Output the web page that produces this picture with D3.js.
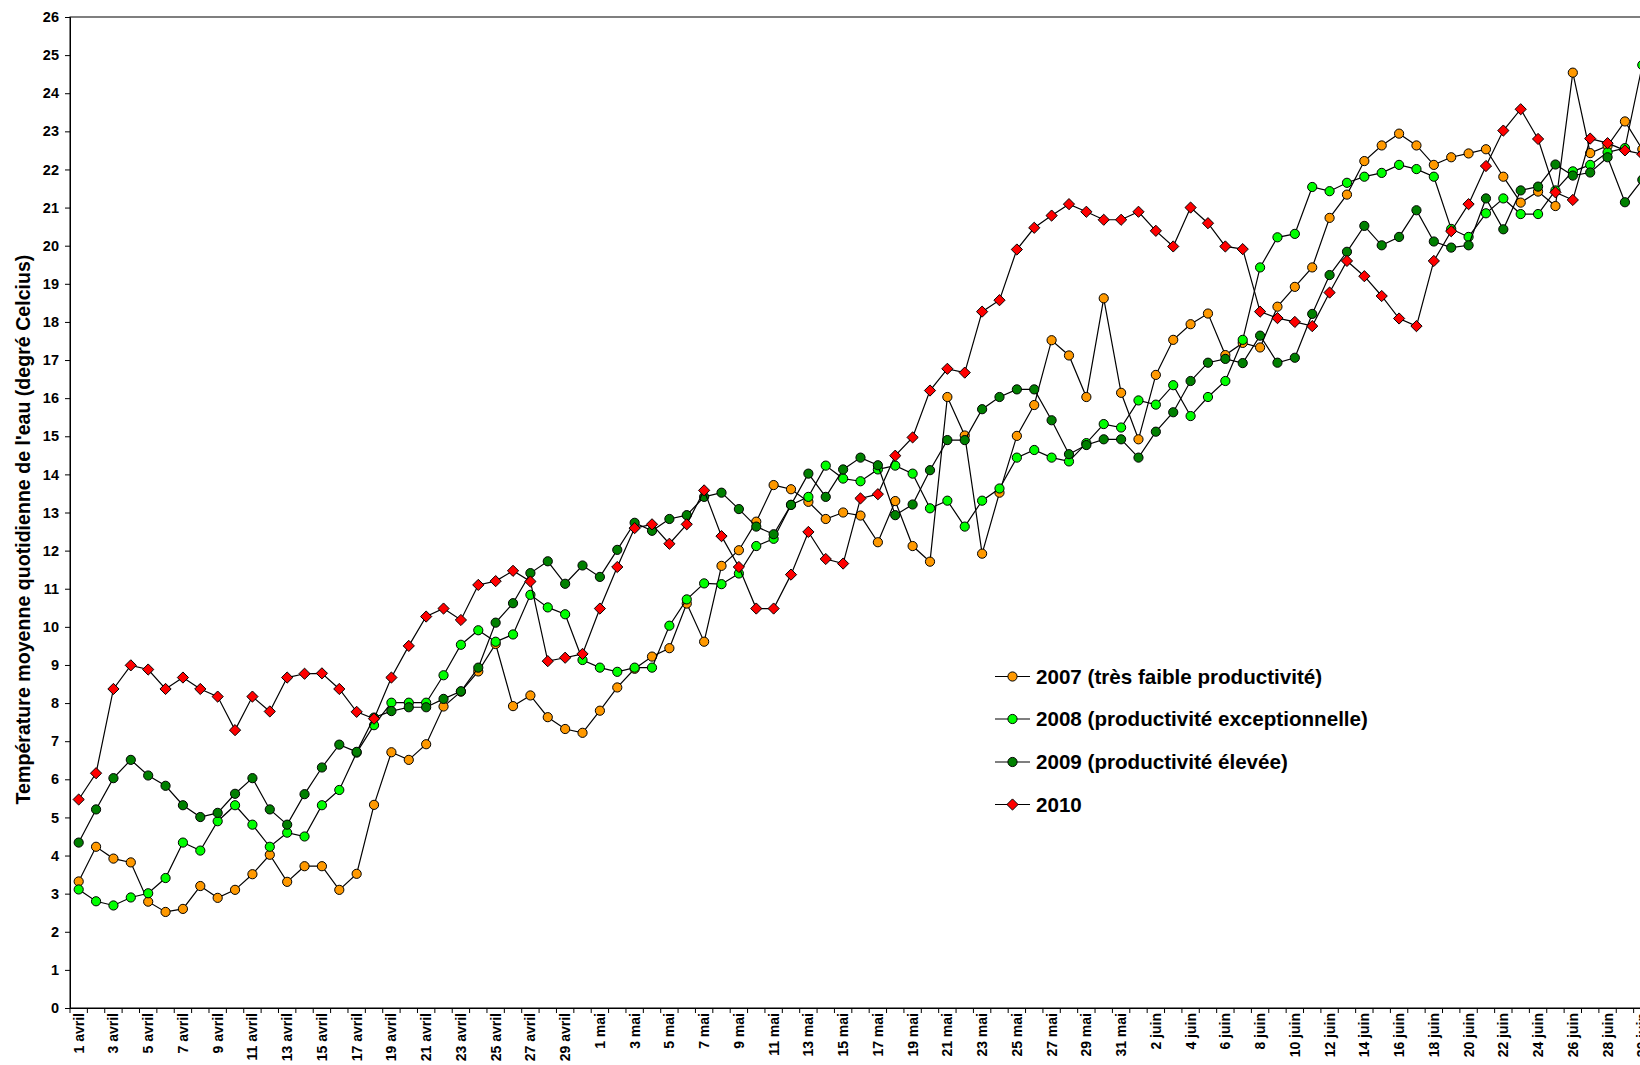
<!DOCTYPE html>
<html>
<head>
<meta charset="utf-8">
<script src="https://cdn.jsdelivr.net/npm/d3@7"></script>
<style>
  body { margin: 0; background: #ffffff; }
  svg { display: block; }
  text { font-family: "Liberation Sans", Arial, sans-serif; font-weight: bold; fill: #000; }
</style>
</head>
<body>
<svg id="chart" width="1640" height="1065"></svg>
<script>
// Calendar categories: 1 avril .. 30 juin
const monthNames = ["avril", "mai", "juin"];
const monthLengths = [30, 31, 30];
const days = [];
monthNames.forEach((m, k) => { for (let d = 1; d <= monthLengths[k]; d++) days.push(d + " " + m); });
const labelledDays = days.filter((d, i) => i % 2 === 0);
const yTicks = d3.range(0, 27);

// Daily mean water temperature (°C), one value per day
const temp2007 = [3.32, 4.23, 3.92, 3.82, 2.79, 2.52, 2.60, 3.20, 2.89, 3.10, 3.51, 4.02, 3.31, 3.72, 3.72, 3.10, 3.52, 5.33, 6.71, 6.51,
  6.92, 7.91, 8.30, 8.83, 9.55, 7.92, 8.20, 7.63, 7.32, 7.22, 7.80, 8.41, 8.90, 9.22, 9.44, 10.61, 9.61, 11.60, 12.01, 12.76,
  13.72, 13.61, 13.28, 12.83, 13.00, 12.92, 12.22, 13.30, 12.12, 11.71, 16.03, 15.02, 11.92, 13.52, 15.01, 15.82, 17.52, 17.12, 16.03, 18.62,
  16.14, 14.92, 16.61, 17.53, 17.94, 18.22, 17.13, 17.45, 17.33, 18.40, 18.92, 19.43, 20.73, 21.34, 22.22, 22.63, 22.94, 22.63, 22.12, 22.32,
  22.42, 22.53, 21.81, 21.13, 21.42, 21.04, 24.54, 22.43, 22.62, 23.26, 22.53];
const temp2008 = [3.11, 2.80, 2.69, 2.90, 3.01, 3.41, 4.34, 4.13, 4.90, 5.32, 4.81, 4.23, 4.60, 4.50, 5.32, 5.72, 6.70, 7.42, 8.01, 8.01,
  8.01, 8.73, 9.53, 9.91, 9.61, 9.80, 10.84, 10.51, 10.33, 9.13, 8.93, 8.82, 8.93, 8.93, 10.03, 10.72, 11.14, 11.12, 11.40, 12.12,
  12.31, 13.20, 13.41, 14.23, 13.89, 13.82, 14.13, 14.23, 14.02, 13.11, 13.31, 12.63, 13.31, 13.63, 14.44, 14.64, 14.44, 14.34, 14.82, 15.32,
  15.23, 15.94, 15.83, 16.34, 15.53, 16.03, 16.45, 17.53, 19.43, 20.22, 20.31, 21.54, 21.43, 21.65, 21.81, 21.91, 22.12, 22.01, 21.81, 20.44,
  20.23, 20.85, 21.24, 20.83, 20.83, 21.45, 21.95, 22.12, 22.45, 22.56, 24.74];
const temp2009 = [4.34, 5.21, 6.03, 6.51, 6.10, 5.83, 5.32, 5.01, 5.12, 5.62, 6.03, 5.21, 4.81, 5.61, 6.31, 6.91, 6.72, 7.62, 7.79, 7.89,
  7.89, 8.11, 8.31, 8.93, 10.11, 10.62, 11.41, 11.72, 11.13, 11.61, 11.31, 12.02, 12.73, 12.52, 12.83, 12.93, 13.41, 13.52, 13.09, 12.63,
  12.43, 13.20, 14.02, 13.41, 14.13, 14.44, 14.24, 12.93, 13.21, 14.11, 14.90, 14.90, 15.71, 16.03, 16.23, 16.23, 15.42, 14.53, 14.77, 14.92,
  14.92, 14.44, 15.12, 15.63, 16.45, 16.93, 17.03, 16.92, 17.64, 16.93, 17.06, 18.21, 19.23, 19.84, 20.52, 20.01, 20.23, 20.93, 20.11, 19.95,
  20.01, 21.24, 20.43, 21.45, 21.55, 22.13, 21.84, 21.92, 22.32, 21.14, 21.73];
const temp2010 = [5.47, 6.16, 8.37, 8.99, 8.88, 8.37, 8.67, 8.37, 8.17, 7.29, 8.17, 7.78, 8.67, 8.77, 8.78, 8.37, 7.77, 7.59, 8.67, 9.50,
  10.27, 10.48, 10.18, 11.10, 11.20, 11.47, 11.19, 9.10, 9.19, 9.29, 10.48, 11.57, 12.59, 12.69, 12.18, 12.69, 13.58, 12.38, 11.57, 10.48,
  10.48, 11.37, 12.49, 11.78, 11.66, 13.37, 13.48, 14.49, 14.97, 16.20, 16.77, 16.67, 18.27, 18.57, 19.90, 20.47, 20.79, 21.09, 20.89, 20.68,
  20.68, 20.89, 20.39, 19.98, 21.00, 20.59, 19.98, 19.91, 18.27, 18.10, 18.00, 17.89, 18.77, 19.60, 19.20, 18.68, 18.09, 17.89, 19.60, 20.38,
  21.09, 22.09, 23.02, 23.58, 22.80, 21.40, 21.20, 22.81, 22.69, 22.50, 22.40];

const seriesLabels = ["2007 (très faible productivité)", "2008 (productivité exceptionnelle)", "2009 (productivité élevée)", "2010"];
const seriesValues = [temp2007, temp2008, temp2009, temp2010];
const seriesColors = ["#FF9900", "#00FF00", "#008000", "#FF0000"];
const seriesShapes = ["circle", "circle", "circle", "diamond"];

const yTitle = "Température moyenne quotidienne de l'eau (degré Celcius)";

const svg = d3.select("#chart");
const plot = { left: 70, top: 17, bottom: 1008, right: 1651 };

const x = d3.scaleBand().domain(days).range([plot.left, plot.right]).padding(0);
const y = d3.scaleLinear().domain([0, 26]).range([plot.bottom, plot.top]);
const cx = d => x(d) + x.bandwidth() / 2;

// plot frame
svg.append("rect")
  .attr("x", plot.left).attr("y", plot.top)
  .attr("width", plot.right - plot.left).attr("height", plot.bottom - plot.top)
  .attr("fill", "none").attr("stroke", "#000").attr("stroke-width", 1);

// y axis
const yAxis = svg.append("g")
  .attr("transform", `translate(${plot.left},0)`)
  .call(d3.axisLeft(y).tickValues(yTicks).tickFormat(d3.format("d")).tickSize(5).tickPadding(6));
yAxis.selectAll("text").style("font-size", "14.5px");
yAxis.selectAll("line, path").attr("stroke", "#000");

// x axis: labels on every second day, tick marks at every day boundary
const xAxis = svg.append("g")
  .attr("transform", `translate(0,${plot.bottom})`)
  .call(d3.axisBottom(x).tickValues(labelledDays).tickSize(0).tickSizeOuter(0));
xAxis.select(".domain").attr("stroke", "#000");
xAxis.selectAll("text")
  .style("font-size", "14px")
  .style("text-anchor", "end")
  .attr("transform", "rotate(-90)")
  .attr("x", -5).attr("y", 0).attr("dy", "0.36em");

svg.append("g").selectAll("line")
  .data(days.concat([null]))
  .join("line")
  .attr("x1", d => d === null ? plot.right : x(d))
  .attr("x2", d => d === null ? plot.right : x(d))
  .attr("y1", plot.bottom).attr("y2", plot.bottom + 5)
  .attr("stroke", "#000");

// y axis title
svg.append("text")
  .attr("transform", `translate(23,${(plot.top + plot.bottom) / 2 + 17}) rotate(-90)`)
  .attr("text-anchor", "middle")
  .attr("dy", "0.35em")
  .style("font-size", "19.6px")
  .text(yTitle);

const line = d3.line().x((v, i) => cx(days[i])).y(v => y(v));
const diamond = r => `M0,${-r}L${r},0L0,${r}L${-r},0Z`;

function drawMarker(g, shape, color) {
  if (shape === "circle") {
    g.append("circle").attr("r", 4.6).attr("fill", color).attr("stroke", "#000").attr("stroke-width", 1);
  } else {
    g.append("path").attr("d", diamond(5.6)).attr("fill", color).attr("stroke", "#000").attr("stroke-width", 1);
  }
}

// series: line then markers, in order
seriesValues.forEach((vals, s) => {
  const g = svg.append("g");
  g.append("path").attr("d", line(vals)).attr("fill", "none").attr("stroke", "#000").attr("stroke-width", 1.2);
  vals.forEach((v, i) => {
    const m = g.append("g").attr("transform", `translate(${cx(days[i])},${y(v)})`);
    drawMarker(m, seriesShapes[s], seriesColors[s]);
  });
});

// legend
const legend = svg.append("g");
const legendRows = [676.5, 719, 762, 804.5];
seriesLabels.forEach((lab, s) => {
  const row = legend.append("g").attr("transform", `translate(0,${legendRows[s]})`);
  row.append("line").attr("x1", 995).attr("x2", 1030).attr("y1", 0).attr("y2", 0).attr("stroke", "#000").attr("stroke-width", 1.2);
  const m = row.append("g").attr("transform", "translate(1012.5,0)");
  drawMarker(m, seriesShapes[s], seriesColors[s]);
  row.append("text").attr("x", 1036).attr("y", 0).attr("dy", "0.36em").style("font-size", "20.6px").text(lab);
});
</script>
</body>
</html>
